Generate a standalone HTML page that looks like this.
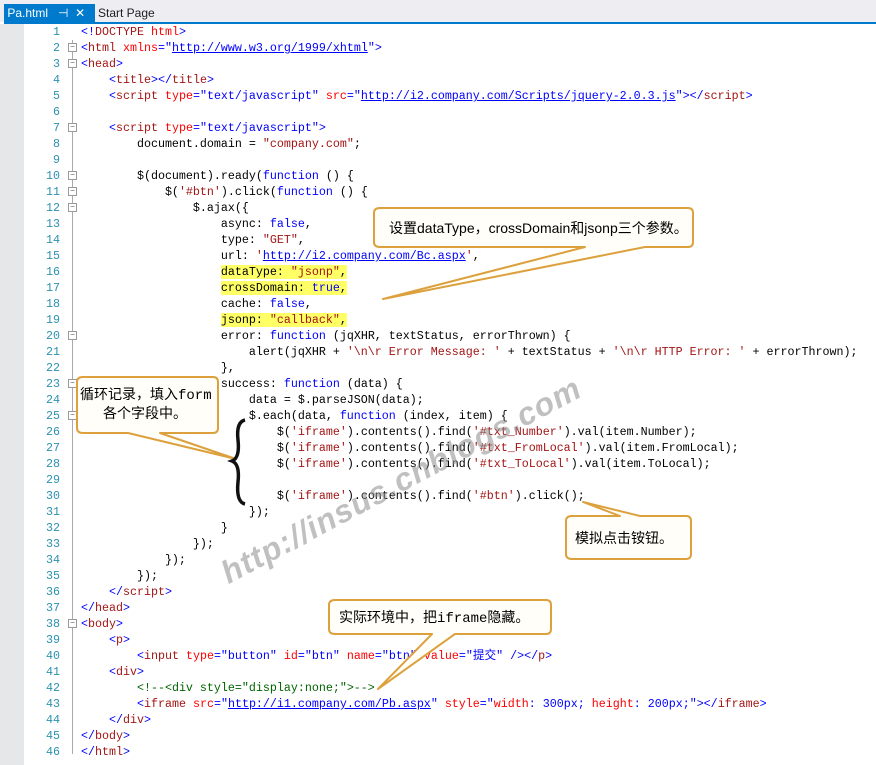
<!DOCTYPE html>
<html><head><meta charset="utf-8">
<style>
body{margin:0;width:876px;height:765px;overflow:hidden;background:#fff;position:relative;font-family:"Liberation Mono","Noto Sans CJK SC",monospace}
.tabbar{position:absolute;left:0;top:0;width:876px;height:22px;background:#eeeef2}
.tab{position:absolute;left:4px;top:4px;width:91px;height:18px;background:#007acc;color:#fff;font:12px "Liberation Sans",sans-serif;line-height:18px}
.blue{position:absolute;left:4px;top:22px;width:872px;height:2px;background:#007acc}
.gut{position:absolute;left:0;top:24px;width:24px;height:741px;background:#e6e7e8}
.ln{position:absolute;left:30px;width:30px;text-align:right;color:#2b91af;font-size:11.67px;line-height:16px;height:16px}
.c{position:absolute;left:81px;white-space:pre;font-size:11.67px;line-height:16px;height:16px;color:#000}
.b{color:#0000ff}.m{color:#a31515}.r{color:#ff0000}.g{color:#006400}.u{color:#0000ff;text-decoration:underline}.s{color:#a31515}
.hl{background:#ffff66}
.fold{position:absolute;left:68px;width:7px;height:7px;border:1px solid #999;background:#fff;font-size:8px;line-height:7px;text-align:center;color:#555}
.vl{position:absolute;left:72px;width:1px;background:#aaa}
.ct{position:absolute;font:14px "Liberation Sans","Noto Sans CJK SC",sans-serif;color:#000;white-space:nowrap}
</style></head><body>
<div class="tabbar"></div>
<div class="tab">&nbsp;Pa.html &nbsp; ⊣ &nbsp;✕</div>
<div style="position:absolute;left:98px;top:4px;font:12px 'Liberation Sans',sans-serif;line-height:18px;color:#1e1e1e">Start Page</div>
<div class="blue"></div>
<div class="gut"></div>

<div class="vl" style="top:40px;height:714px"></div>

<div class="ln" style="top:24px">1</div><div class="c" style="top:24px"><span class="b">&lt;!</span><span class="m">DOCTYPE</span><span class="r"> html</span><span class="b">&gt;</span></div>
<div class="ln" style="top:40px">2</div><div class="c" style="top:40px"><span class="b">&lt;</span><span class="m">html</span> <span class="r">xmlns</span><span class="b">="</span><span class="u">http://www.w3.org/1999/xhtml</span><span class="b">"&gt;</span></div>
<div class="ln" style="top:56px">3</div><div class="c" style="top:56px"><span class="b">&lt;</span><span class="m">head</span><span class="b">&gt;</span></div>
<div class="ln" style="top:72px">4</div><div class="c" style="top:72px">    <span class="b">&lt;</span><span class="m">title</span><span class="b">&gt;&lt;/</span><span class="m">title</span><span class="b">&gt;</span></div>
<div class="ln" style="top:88px">5</div><div class="c" style="top:88px">    <span class="b">&lt;</span><span class="m">script</span> <span class="r">type</span><span class="b">="text/javascript"</span> <span class="r">src</span><span class="b">="</span><span class="u">http://i2.company.com/Scripts/jquery-2.0.3.js</span><span class="b">"&gt;&lt;/</span><span class="m">script</span><span class="b">&gt;</span></div>
<div class="ln" style="top:104px">6</div>
<div class="ln" style="top:120px">7</div><div class="c" style="top:120px">    <span class="b">&lt;</span><span class="m">script</span> <span class="r">type</span><span class="b">="text/javascript"&gt;</span></div>
<div class="ln" style="top:136px">8</div><div class="c" style="top:136px">        document.domain = <span class="s">"company.com"</span>;</div>
<div class="ln" style="top:152px">9</div>
<div class="ln" style="top:168px">10</div><div class="c" style="top:168px">        $(document).ready(<span class="b">function</span> () {</div>
<div class="ln" style="top:184px">11</div><div class="c" style="top:184px">            $(<span class="s">'#btn'</span>).click(<span class="b">function</span> () {</div>
<div class="ln" style="top:200px">12</div><div class="c" style="top:200px">                $.ajax({</div>
<div class="ln" style="top:216px">13</div><div class="c" style="top:216px">                    async: <span class="b">false</span>,</div>
<div class="ln" style="top:232px">14</div><div class="c" style="top:232px">                    type: <span class="s">"GET"</span>,</div>
<div class="ln" style="top:248px">15</div><div class="c" style="top:248px">                    url: <span class="s">'</span><span class="u">http://i2.company.com/Bc.aspx</span><span class="s">'</span>,</div>
<div class="ln" style="top:264px">16</div><div class="c" style="top:264px">                    <span class="hl">dataType: <span class="s">"jsonp"</span>,</span></div>
<div class="ln" style="top:280px">17</div><div class="c" style="top:280px">                    <span class="hl">crossDomain: <span class="b">true</span>,</span></div>
<div class="ln" style="top:296px">18</div><div class="c" style="top:296px">                    cache: <span class="b">false</span>,</div>
<div class="ln" style="top:312px">19</div><div class="c" style="top:312px">                    <span class="hl">jsonp: <span class="s">"callback"</span>,</span></div>
<div class="ln" style="top:328px">20</div><div class="c" style="top:328px">                    error: <span class="b">function</span> (jqXHR, textStatus, errorThrown) {</div>
<div class="ln" style="top:344px">21</div><div class="c" style="top:344px">                        alert(jqXHR + <span class="s">'\n\r Error Message: '</span> + textStatus + <span class="s">'\n\r HTTP Error: '</span> + errorThrown);</div>
<div class="ln" style="top:360px">22</div><div class="c" style="top:360px">                    },</div>
<div class="ln" style="top:376px">23</div><div class="c" style="top:376px">                    success: <span class="b">function</span> (data) {</div>
<div class="ln" style="top:392px">24</div><div class="c" style="top:392px">                        data = $.parseJSON(data);</div>
<div class="ln" style="top:408px">25</div><div class="c" style="top:408px">                        $.each(data, <span class="b">function</span> (index, item) {</div>
<div class="ln" style="top:424px">26</div><div class="c" style="top:424px">                            $(<span class="s">'iframe'</span>).contents().find(<span class="s">'#txt_Number'</span>).val(item.Number);</div>
<div class="ln" style="top:440px">27</div><div class="c" style="top:440px">                            $(<span class="s">'iframe'</span>).contents().find(<span class="s">'#txt_FromLocal'</span>).val(item.FromLocal);</div>
<div class="ln" style="top:456px">28</div><div class="c" style="top:456px">                            $(<span class="s">'iframe'</span>).contents().find(<span class="s">'#txt_ToLocal'</span>).val(item.ToLocal);</div>
<div class="ln" style="top:472px">29</div>
<div class="ln" style="top:488px">30</div><div class="c" style="top:488px">                            $(<span class="s">'iframe'</span>).contents().find(<span class="s">'#btn'</span>).click();</div>
<div class="ln" style="top:504px">31</div><div class="c" style="top:504px">                        });</div>
<div class="ln" style="top:520px">32</div><div class="c" style="top:520px">                    }</div>
<div class="ln" style="top:536px">33</div><div class="c" style="top:536px">                });</div>
<div class="ln" style="top:552px">34</div><div class="c" style="top:552px">            });</div>
<div class="ln" style="top:568px">35</div><div class="c" style="top:568px">        });</div>
<div class="ln" style="top:584px">36</div><div class="c" style="top:584px">    <span class="b">&lt;/</span><span class="m">script</span><span class="b">&gt;</span></div>
<div class="ln" style="top:600px">37</div><div class="c" style="top:600px"><span class="b">&lt;/</span><span class="m">head</span><span class="b">&gt;</span></div>
<div class="ln" style="top:616px">38</div><div class="c" style="top:616px"><span class="b">&lt;</span><span class="m">body</span><span class="b">&gt;</span></div>
<div class="ln" style="top:632px">39</div><div class="c" style="top:632px">    <span class="b">&lt;</span><span class="m">p</span><span class="b">&gt;</span></div>
<div class="ln" style="top:648px">40</div><div class="c" style="top:648px">        <span class="b">&lt;</span><span class="m">input</span> <span class="r">type</span><span class="b">="button"</span> <span class="r">id</span><span class="b">="btn"</span> <span class="r">name</span><span class="b">="btn"</span> <span class="r">value</span><span class="b">="提交"</span> <span class="b">/&gt;&lt;/</span><span class="m">p</span><span class="b">&gt;</span></div>
<div class="ln" style="top:664px">41</div><div class="c" style="top:664px">    <span class="b">&lt;</span><span class="m">div</span><span class="b">&gt;</span></div>
<div class="ln" style="top:680px">42</div><div class="c" style="top:680px">        <span class="g">&lt;!--&lt;div style="display:none;"&gt;--&gt;</span></div>
<div class="ln" style="top:696px">43</div><div class="c" style="top:696px">        <span class="b">&lt;</span><span class="m">iframe</span> <span class="r">src</span><span class="b">="</span><span class="u">http://i1.company.com/Pb.aspx</span><span class="b">"</span> <span class="r">style</span><span class="b">="</span><span class="r">width</span><span class="b">: 300px; </span><span class="r">height</span><span class="b">: 200px;"&gt;&lt;/</span><span class="m">iframe</span><span class="b">&gt;</span></div>
<div class="ln" style="top:712px">44</div><div class="c" style="top:712px">    <span class="b">&lt;/</span><span class="m">div</span><span class="b">&gt;</span></div>
<div class="ln" style="top:728px">45</div><div class="c" style="top:728px"><span class="b">&lt;/</span><span class="m">body</span><span class="b">&gt;</span></div>
<div class="ln" style="top:744px">46</div><div class="c" style="top:744px"><span class="b">&lt;/</span><span class="m">html</span><span class="b">&gt;</span></div>

<div class="fold" style="top:43px">−</div>
<div class="fold" style="top:59px">−</div>
<div class="fold" style="top:123px">−</div>
<div class="fold" style="top:171px">−</div>
<div class="fold" style="top:187px">−</div>
<div class="fold" style="top:203px">−</div>
<div class="fold" style="top:331px">−</div>
<div class="fold" style="top:379px">−</div>
<div class="fold" style="top:411px">−</div>
<div class="fold" style="top:619px">−</div>

<div style="position:absolute;left:200px;top:462px;transform:rotate(-28deg);transform-origin:center;font:bold italic 32px 'Liberation Sans',sans-serif;color:rgba(140,140,140,0.55);white-space:nowrap;letter-spacing:1px">http://insus.cnblogs.com</div>

<svg width="876" height="765" style="position:absolute;left:0;top:0" xmlns="http://www.w3.org/2000/svg">
<g fill="#fffef8" stroke="#dca03c" stroke-width="2" stroke-linejoin="round">
<path d="M380,208 H688 Q693,208 693,213 V242 Q693,247 688,247 H645 L383,299 L585,247 H380 Q374,247 374,242 V213 Q374,208 380,208 Z"/>
<path d="M83,377 H213 Q218,377 218,382 V428 Q218,433 213,433 H160 L236,459 L128,433 H83 Q77,433 77,428 V382 Q77,377 83,377 Z"/>
<path d="M572,516 H620 L583,502 L640,516 H686 Q691,516 691,521 V554 Q691,559 686,559 H572 Q566,559 566,554 V521 Q566,516 572,516 Z"/>
<path d="M335,600 H546 Q551,600 551,605 V629 Q551,634 546,634 H455 L378,689 L432,634 H335 Q329,634 329,629 V605 Q329,600 335,600 Z"/>
</g>
<path d="M245,420 Q236,422 238,440 Q240,458 232,461 Q240,464 238,482 Q236,502 245,504" fill="none" stroke="#111" stroke-width="3.5"/>
</svg>
<div class="ct" style="left:389px;top:218px">设置dataType，crossDomain和jsonp三个参数。</div>
<div class="ct" style="left:80px;top:384px;font-family:'Liberation Mono','Noto Sans CJK SC',monospace">循环记录，填入form</div>
<div class="ct" style="left:103px;top:403px">各个字段中。</div>
<div class="ct" style="left:575px;top:528px">模拟点击铵钮。</div>
<div class="ct" style="left:339px;top:607px;font-family:'Liberation Mono','Noto Sans CJK SC',monospace">实际环境中，把iframe隐藏。</div>
</body></html>
